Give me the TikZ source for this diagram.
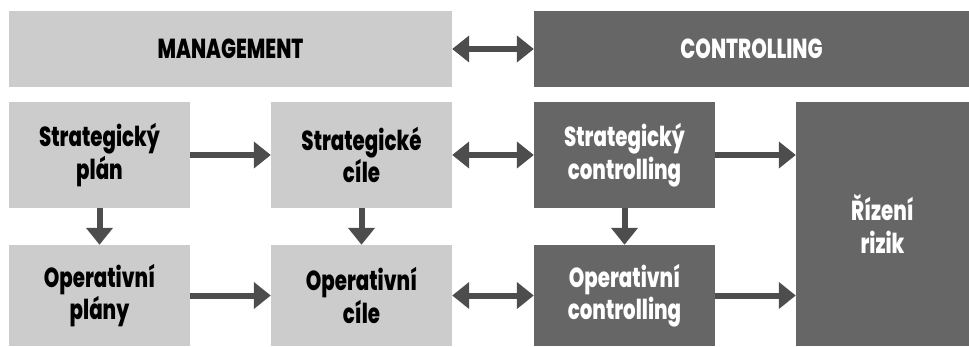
\documentclass[tikz,border=0pt]{standalone}
\usepackage{fontspec}
\setmainfont{Poppins}[FakeStretch=0.72, BoldFont={Poppins ExtraBold}, BoldFeatures={FakeStretch=0.72}]
\usetikzlibrary{arrows.meta}
\definecolor{boxlight}{HTML}{CCCCCC}
\definecolor{boxdark}{HTML}{666666}
\definecolor{arrowgray}{HTML}{4D4D4D}
\begin{document}
\begin{tikzpicture}[x=1pt,y=-1pt]
\tikzset{
  box/.style={rectangle, inner sep=0pt, align=center,
    font=\bfseries\fontsize{27.5}{32.6}\selectfont},
  light/.style={box, fill=boxlight, text=black},
  dark/.style={box, fill=boxdark, text=white},
  tipA/.tip={Triangle[length=17pt,width=26pt]},
  conn/.style={draw=arrowgray, line width=6pt, -tipA},
  both/.style={draw=arrowgray, line width=6pt, tipA-tipA}
}
\useasboundingbox (0,0) rectangle (969,346);
% header row
\node[light, minimum width=443pt, minimum height=76pt] (mgmt) at (230.5,49) {MANAGEMENT};
\node[dark, minimum width=435pt, minimum height=76pt] (ctrl) at (751.5,49) {CONTROLLING};
% second row
\node[light, minimum width=181pt, minimum height=106pt] (sp) at (99.5,155) {Strategický\\plán};
\node[light, minimum width=181pt, minimum height=106pt] (sc) at (361.5,155) {Strategické\\cíle};
\node[dark, minimum width=181pt, minimum height=106pt] (scon) at (624.5,155) {Strategický\\controlling};
% third row
\node[light, minimum width=181pt, minimum height=101pt] (op) at (99.5,295.5) {Operativní\\plány};
\node[light, minimum width=181pt, minimum height=101pt] (oc) at (361.5,295.5) {Operativní\\cíle};
\node[dark, minimum width=181pt, minimum height=101pt] (ocon) at (624.5,295.5) {Operativní\\controlling};
% risk
\node[dark, minimum width=173pt, minimum height=244pt] (riz) at (882.5,224) {Řízení\\rizik};
% connectors
\draw[both] (mgmt.east) -- (ctrl.west);
\draw[conn] (sp.east) -- (sc.west);
\draw[both] (sc.east) -- (scon.west);
\draw[conn] (scon.east) -- (scon.east -| riz.west);
\draw[conn] (op.east) -- (oc.west);
\draw[both] (oc.east) -- (ocon.west);
\draw[conn] (ocon.east) -- (ocon.east -| riz.west);
\draw[conn] (sp.south) -- (op.north);
\draw[conn] (sc.south) -- (oc.north);
\draw[conn] (scon.south) -- (ocon.north);
\end{tikzpicture}
\end{document}
